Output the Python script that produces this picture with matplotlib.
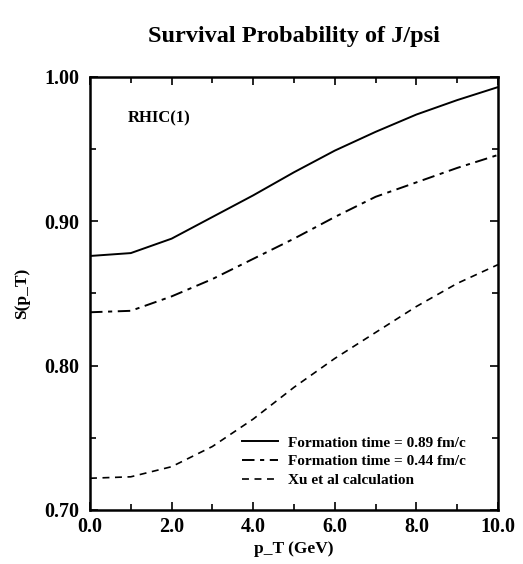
import numpy as np
import matplotlib.pyplot as plt
from matplotlib.ticker import MultipleLocator, FormatStrFormatter

plt.rcParams['font.family'] = ['Liberation Serif', 'DejaVu Serif']
plt.rcParams['font.weight'] = 'bold'
plt.rcParams['lines.scale_dashes'] = False

pt = [0, 1, 2, 3, 4, 5, 6, 7, 8, 9, 10]
s_089 = [0.876, 0.878, 0.888, 0.903, 0.918, 0.934, 0.949, 0.962, 0.974, 0.984, 0.993]
s_044 = [0.837, 0.838, 0.848, 0.860, 0.874, 0.888, 0.903, 0.917, 0.927, 0.937, 0.946]
s_xu = [0.722, 0.723, 0.730, 0.744, 0.763, 0.785, 0.805, 0.823, 0.841, 0.857, 0.870]

fig = plt.figure(figsize=(5.23, 5.64), dpi=100)
ax = fig.add_axes([90/523, 1 - 510/564, 408/523, 433/564])

ax.plot(pt, s_089, color='black', lw=1.4, label='Formation time = 0.89 fm/c')
ax.plot(pt, s_044, color='black', lw=1.4, linestyle=(0, (9, 4, 3, 4)),
        label='Formation time = 0.44 fm/c')
ax.plot(pt, s_xu, color='black', lw=1.2, linestyle=(0, (5, 4)),
        label='Xu et al calculation')

ax.set_xlim(0, 10)
ax.set_ylim(0.70, 1.00)
ax.xaxis.set_major_locator(MultipleLocator(2))
ax.xaxis.set_minor_locator(MultipleLocator(1))
ax.yaxis.set_major_locator(MultipleLocator(0.1))
ax.yaxis.set_minor_locator(MultipleLocator(0.05))
ax.xaxis.set_major_formatter(FormatStrFormatter('%.1f'))
ax.yaxis.set_major_formatter(FormatStrFormatter('%.2f'))
ax.tick_params(which='both', direction='in', top=True, right=True, width=1.2)
ax.tick_params(which='major', length=6, labelsize=14.5)
ax.tick_params(axis='y', which='major', pad=8)
ax.tick_params(axis='x', which='major', pad=5)
ax.tick_params(which='minor', length=4)
for sp in ax.spines.values():
    sp.set_linewidth(1.8)

ax.set_xlabel('p_T (GeV)', fontsize=12.5, fontweight='bold', labelpad=3)
ax.set_ylabel('S(p_T)', fontsize=12.5, fontweight='bold', labelpad=10)
ax.set_title('Survival Probability of J/psi', fontsize=17.5, fontweight='bold', pad=25)
ax.text(0.093, 0.905, 'RHIC(1)', transform=ax.transAxes, fontsize=12,
        fontweight='bold', va='center')

ax.legend(loc='lower right', bbox_to_anchor=(0.95, 0.025), frameon=False,
          prop={'size': 11, 'weight': 'bold'}, handlelength=2.35,
          labelspacing=0.32, handletextpad=0.6, borderpad=0.3)

fig.savefig('out.png', dpi=100)
